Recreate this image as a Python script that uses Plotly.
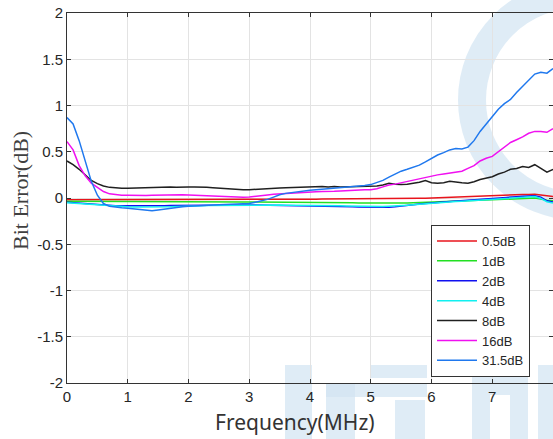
import plotly.graph_objects as go

freq = [0.0, 0.1, 0.2, 0.3, 0.4, 0.5, 0.6, 0.7, 0.8, 0.9,
        1.0, 1.1, 1.2, 1.3, 1.4, 1.5, 1.6, 1.7, 1.8, 1.9,
        2.0, 2.1, 2.2, 2.3, 2.4, 2.5, 2.6, 2.7, 2.8, 2.9,
        3.0, 3.1, 3.2, 3.3, 3.4, 3.5, 3.6, 3.7, 3.8, 3.9,
        4.0, 4.1, 4.2, 4.3, 4.4, 4.5, 4.6, 4.7, 4.8, 4.9,
        5.0, 5.1, 5.2, 5.3, 5.4, 5.5, 5.6, 5.7, 5.8, 5.9,
        6.0, 6.1, 6.2, 6.3, 6.4, 6.5, 6.6, 6.7, 6.8, 6.9,
        7.0, 7.1, 7.2, 7.3, 7.4, 7.5, 7.6, 7.7, 7.8, 7.9, 8.0]

err_0_5dB = [-0.020, -0.020, -0.021, -0.020, -0.020, -0.021, -0.020, -0.020, -0.019, -0.020,
             -0.020, -0.019, -0.020, -0.019, -0.019, -0.020, -0.019, -0.019, -0.018, -0.019,
             -0.018, -0.018, -0.018, -0.019, -0.018, -0.018, -0.017, -0.018, -0.017, -0.017,
             -0.016, -0.016, -0.016, -0.015, -0.015, -0.015, -0.014, -0.014, -0.014, -0.013,
             -0.013, -0.013, -0.012, -0.012, -0.012, -0.012, -0.011, -0.011, -0.011, -0.010,
             -0.010, -0.009, -0.009, -0.008, -0.008, -0.007, -0.006, -0.005, -0.004, -0.003,
             0.000, 0.003, 0.006, 0.009, 0.012, 0.015, 0.018, 0.021, 0.024, 0.027,
             0.030, 0.032, 0.034, 0.036, 0.037, 0.038, 0.039, 0.040, 0.032, 0.022, 0.015]

err_1dB = [-0.035, -0.035, -0.036, -0.036, -0.036, -0.037, -0.037, -0.037, -0.038, -0.038,
           -0.038, -0.038, -0.038, -0.038, -0.038, -0.038, -0.039, -0.039, -0.039, -0.039,
           -0.040, -0.040, -0.040, -0.041, -0.041, -0.041, -0.042, -0.042, -0.042, -0.043,
           -0.044, -0.044, -0.044, -0.045, -0.045, -0.045, -0.046, -0.046, -0.046, -0.047,
           -0.047, -0.048, -0.048, -0.049, -0.049, -0.050, -0.051, -0.052, -0.053, -0.054,
           -0.055, -0.056, -0.056, -0.056, -0.055, -0.055, -0.054, -0.052, -0.050, -0.048,
           -0.045, -0.042, -0.039, -0.036, -0.033, -0.030, -0.028, -0.026, -0.024, -0.022,
           -0.020, -0.017, -0.014, -0.011, -0.008, -0.005, -0.002, 0.000, -0.010, -0.025, -0.030]

err_2dB = [-0.045, -0.050, -0.055, -0.060, -0.066, -0.072, -0.078, -0.081, -0.083, -0.084,
           -0.085, -0.085, -0.085, -0.084, -0.084, -0.083, -0.083, -0.082, -0.081, -0.081,
           -0.080, -0.080, -0.079, -0.079, -0.078, -0.078, -0.077, -0.077, -0.076, -0.076,
           -0.075, -0.075, -0.076, -0.076, -0.077, -0.077, -0.078, -0.078, -0.079, -0.079,
           -0.080, -0.082, -0.084, -0.086, -0.088, -0.090, -0.092, -0.094, -0.096, -0.098,
           -0.100, -0.100, -0.100, -0.100, -0.095, -0.090, -0.082, -0.074, -0.066, -0.058,
           -0.050, -0.046, -0.042, -0.038, -0.034, -0.030, -0.026, -0.022, -0.018, -0.014,
           -0.010, -0.004, 0.002, 0.008, 0.014, 0.020, 0.023, 0.025, 0.010, -0.030, -0.043]

err_4dB = [-0.050, -0.055, -0.060, -0.065, -0.071, -0.077, -0.083, -0.087, -0.090, -0.093,
           -0.095, -0.096, -0.097, -0.098, -0.099, -0.100, -0.098, -0.095, -0.092, -0.088,
           -0.085, -0.084, -0.083, -0.082, -0.081, -0.080, -0.079, -0.078, -0.077, -0.076,
           -0.075, -0.075, -0.076, -0.076, -0.077, -0.077, -0.078, -0.078, -0.079, -0.079,
           -0.080, -0.081, -0.082, -0.083, -0.084, -0.085, -0.087, -0.089, -0.091, -0.093,
           -0.095, -0.095, -0.093, -0.090, -0.088, -0.085, -0.079, -0.073, -0.067, -0.061,
           -0.055, -0.051, -0.047, -0.043, -0.039, -0.035, -0.031, -0.027, -0.023, -0.019,
           -0.015, -0.010, -0.005, 0.000, 0.005, 0.010, 0.013, 0.015, -0.005, -0.040, -0.055]

err_8dB = [0.400, 0.360, 0.310, 0.250, 0.190, 0.155, 0.130, 0.115, 0.108, 0.105,
           0.105, 0.107, 0.110, 0.112, 0.110, 0.115, 0.120, 0.118, 0.115, 0.120,
           0.118, 0.120, 0.120, 0.115, 0.110, 0.105, 0.100, 0.092, 0.090, 0.088,
           0.090, 0.092, 0.100, 0.098, 0.102, 0.108, 0.112, 0.115, 0.118, 0.115,
           0.120, 0.122, 0.125, 0.120, 0.125, 0.120, 0.122, 0.125, 0.120, 0.125,
           0.128, 0.130, 0.140, 0.160, 0.150, 0.145, 0.150, 0.160, 0.170, 0.190,
           0.165, 0.160, 0.165, 0.180, 0.170, 0.165, 0.160, 0.175, 0.200, 0.215,
           0.230, 0.260, 0.280, 0.310, 0.320, 0.340, 0.330, 0.360, 0.320, 0.280, 0.310]

err_16dB = [0.610, 0.520, 0.350, 0.240, 0.160, 0.110, 0.070, 0.045, 0.035, 0.030,
            0.030, 0.028, 0.025, 0.028, 0.030, 0.032, 0.035, 0.033, 0.036, 0.035,
            0.033, 0.030, 0.025, 0.020, 0.015, 0.012, 0.010, 0.008, 0.007, 0.008,
            0.010, 0.015, 0.025, 0.033, 0.040, 0.045, 0.050, 0.055, 0.060, 0.062,
            0.065, 0.068, 0.070, 0.075, 0.072, 0.075, 0.080, 0.085, 0.088, 0.090,
            0.090, 0.100, 0.120, 0.140, 0.150, 0.165, 0.180, 0.190, 0.210, 0.220,
            0.235, 0.250, 0.260, 0.270, 0.280, 0.290, 0.320, 0.350, 0.400, 0.430,
            0.450, 0.500, 0.540, 0.600, 0.630, 0.660, 0.700, 0.720, 0.720, 0.710, 0.750]

err_31_5dB = [0.870, 0.800, 0.620, 0.400, 0.180, 0.030, -0.060, -0.090, -0.100, -0.105,
              -0.110, -0.115, -0.120, -0.130, -0.138, -0.130, -0.120, -0.110, -0.100, -0.095,
              -0.090, -0.085, -0.080, -0.078, -0.075, -0.072, -0.070, -0.068, -0.065, -0.062,
              -0.060, -0.045, -0.030, -0.015, 0.010, 0.035, 0.050, 0.060, 0.070, 0.075,
              0.085, 0.090, 0.095, 0.100, 0.110, 0.115, 0.120, 0.125, 0.128, 0.135,
              0.145, 0.165, 0.190, 0.225, 0.255, 0.290, 0.310, 0.330, 0.355, 0.390,
              0.430, 0.465, 0.490, 0.520, 0.535, 0.530, 0.550, 0.620, 0.720, 0.800,
              0.880, 0.960, 1.020, 1.065, 1.140, 1.210, 1.280, 1.340, 1.360, 1.350, 1.400]

series_names = ["0.5dB", "1dB", "2dB", "4dB", "8dB", "16dB", "31.5dB"]
series_values = [err_0_5dB, err_1dB, err_2dB, err_4dB, err_8dB, err_16dB, err_31_5dB]
series_colors = ["#e8141c", "#22e022", "#1010f0", "#10f0f0", "#202020", "#f010f0", "#1f78ee"]

x_ticks = [0, 1, 2, 3, 4, 5, 6, 7, 8]
y_ticks = [-2, -1.5, -1, -0.5, 0, 0.5, 1, 1.5, 2]
y_tick_text = ["-2", "-1.5", "-1", "-0.5", "0", "0.5", "1", "1.5", "2"]

fig = go.Figure()
for name, vals, col in zip(series_names, series_values, series_colors):
    fig.add_trace(go.Scatter(x=freq, y=vals, mode="lines", name=name,
                             line=dict(color=col, width=1.5)))

# plot area geometry in pixels (for watermark placement in paper coords)
W, H = 553, 439
L, R, T, B = 67, 0, 13, 56
pw, ph = W - L - R, H - T - B

def px2paper(x, y):
    return (x - L) / pw, (H - B - y) / ph

wm = "rgba(210,228,242,0.7)"
shapes = []
# ring of the logo watermark (right side)
cx, cy, rr = 578, 100, 106
x0, y0 = px2paper(cx - rr, cy + rr)
x1, y1 = px2paper(cx + rr, cy - rr)
shapes.append(dict(type="circle", xref="paper", yref="paper", x0=x0, y0=y0, x1=x1, y1=y1,
                   line=dict(color=wm, width=28), fillcolor="rgba(0,0,0,0)", layer="below"))
# blocky character watermark (bottom)
for (a, b, c, d) in [(285, 365, 312, 439), (326, 383, 355, 439), (326, 383, 427, 397),
                     (370, 365, 427, 378), (395, 400, 425, 439), (472, 375, 528, 395),
                     (472, 395, 490, 439), (510, 395, 528, 439), (538, 365, 553, 439)]:
    p0 = px2paper(a, d)
    p1 = px2paper(c, b)
    shapes.append(dict(type="rect", xref="paper", yref="paper", x0=p0[0], y0=p0[1],
                       x1=p1[0], y1=p1[1], line=dict(width=0), fillcolor=wm, layer="below"))

axis_common = dict(showgrid=True, gridcolor="#e3e3e3", gridwidth=1,
                   showline=True, linecolor="#333333", linewidth=1, mirror="ticks",
                   ticks="inside", ticklen=4, tickcolor="#333333", zeroline=False,
                   tickfont=dict(family="Liberation Sans, Arial, sans-serif", size=15, color="#262626"))

fig.update_layout(
    width=W, height=H,
    margin=dict(l=L, r=R, t=T, b=B, pad=0),
    paper_bgcolor="white", plot_bgcolor="rgba(0,0,0,0)",
    showlegend=True,
    legend=dict(x=(530 - L) / pw, y=(H - B - 301) / ph, xanchor="right", yanchor="middle",
                bgcolor="white", bordercolor="#333333", borderwidth=1,
                font=dict(family="Liberation Sans, Arial, sans-serif", size=13, color="#262626"),
                itemwidth=40, tracegroupgap=0),
    xaxis=dict(range=[0, 8], tickvals=x_ticks, **axis_common),
    yaxis=dict(range=[-2, 2], tickvals=y_ticks, ticktext=y_tick_text, **axis_common),
    shapes=shapes,
    annotations=[
        dict(text="Frequency(MHz)", xref="paper", yref="paper",
             x=(295 - L) / pw, y=(H - B - 422) / ph, xanchor="center", yanchor="middle",
             showarrow=False, font=dict(family="Noto Sans, Open Sans, sans-serif", size=21, color="#333333")),
        dict(text="Bit Error(dB)", xref="paper", yref="paper", textangle=-90,
             x=(20 - L) / pw, y=(H - B - 191) / ph, xanchor="center", yanchor="middle",
             showarrow=False, font=dict(family="Liberation Serif, Times New Roman, serif", size=22, color="#404040")),
    ],
)

fig.write_html("out.html")
